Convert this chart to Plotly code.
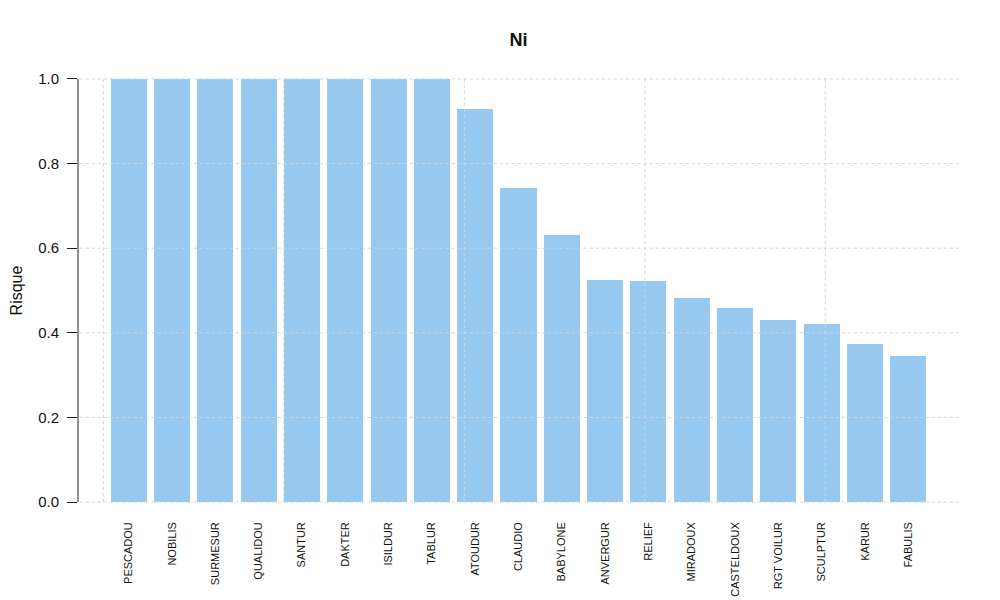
import plotly.graph_objects as go

# ---- data ----
stations = ["PESCADOU", "NOBILIS", "SURMESUR", "QUALIDOU", "SANTUR", "DAKTER",
            "ISILDUR", "TABLUR", "ATOUDUR", "CLAUDIO", "BABYLONE", "ANVERGUR",
            "RELIEF", "MIRADOUX", "CASTELDOUX", "RGT VOILUR", "SCULPTUR",
            "KARUR", "FABULIS"]
risque = [1.0, 1.0, 1.0, 1.0, 1.0, 1.0, 1.0, 1.0, 0.929, 0.742, 0.631, 0.525,
          0.522, 0.482, 0.459, 0.430, 0.421, 0.3735, 0.345]
y_ticks = [0.0, 0.2, 0.4, 0.6, 0.8, 1.0]
y_ticktext = ["0.0", "0.2", "0.4", "0.6", "0.8", "1.0"]
x_grid = [0, 5, 10, 15, 20]

# R barplot-style layout (width 1, space 0.2)
space = 0.2
width = 1.0
n = len(stations)
x_pos = [space + i * (width + space) + width / 2 for i in range(n)]
x_lo = space
x_hi = n * (width + space)
pad = 0.04 * (x_hi - x_lo)
y_pad = 0.04 * (max(y_ticks) - min(y_ticks))

BAR = "#96C8F0"
GRID = "#D3D3D3"
FONT = "Liberation Sans, Arial, Helvetica, sans-serif"

# page body has an 8px default margin; size the figure to fit the window
OFF = 8
W, H = 1000 - OFF, 600 - OFF

fig = go.Figure()
fig.add_trace(go.Bar(x=x_pos, y=risque, width=width, marker=dict(color=BAR, line=dict(width=0)),
                     hovertext=stations, showlegend=False))

shapes = []
for v in y_ticks:
    shapes.append(dict(type="line", xref="paper", yref="y", x0=0.002, x1=1, y0=v, y1=v,
                       line=dict(color=GRID, width=1, dash="dot"), layer="above"))
for v in x_grid:
    shapes.append(dict(type="line", xref="x", yref="y", x0=v, x1=v, y0=min(y_ticks), y1=max(y_ticks),
                       line=dict(color=GRID, width=1, dash="dot"), layer="above"))
# R-style y axis line spanning tick range only
shapes.append(dict(type="line", xref="paper", yref="y", x0=0, x1=0, y0=min(y_ticks), y1=max(y_ticks),
                   line=dict(color="#222222", width=1), layer="above"))

fig.update_layout(
    width=W, height=H,
    margin=dict(l=78 - OFF, r=41, t=62 - OFF, b=81),
    paper_bgcolor="white", plot_bgcolor="white",
    font=dict(family=FONT, color="#111111"),
    title=dict(text="<b>Ni</b>", x=(518.5 - OFF) / W, xanchor="center",
               y=1 - (40 - OFF) / H, yanchor="middle",
               font=dict(size=18, family=FONT, color="#111111")),
    shapes=shapes,
    bargap=0,
)
fig.update_xaxes(range=[x_lo - pad, x_hi + pad], tickvals=x_pos, ticktext=stations,
                 tickangle=-90, ticks="", showgrid=False, zeroline=False, showline=False,
                 automargin=False,
                 tickfont=dict(size=11, family=FONT, color="#111111"))
fig.update_yaxes(range=[min(y_ticks) - y_pad, max(y_ticks) + y_pad], tickvals=y_ticks,
                 ticktext=y_ticktext, ticks="outside", ticklen=10, tickcolor="#222222",
                 tickwidth=1, showgrid=False, zeroline=False, showline=False,
                 ticklabelstandoff=5, automargin=False,
                 tickfont=dict(size=15, family=FONT, color="#111111"),
                 title=dict(text="Risque", standoff=19, font=dict(size=16, family=FONT, color="#111111")))

fig.write_html("out.html")
